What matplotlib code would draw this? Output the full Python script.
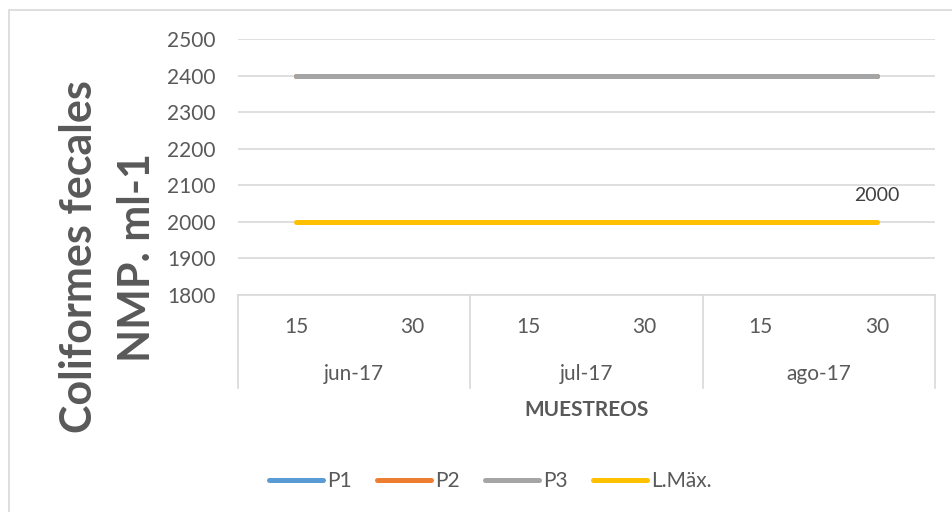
import matplotlib.pyplot as plt
from matplotlib.patches import Rectangle

plt.rcParams['font.family'] = ['Lato', 'DejaVu Sans']

# datos
dias = ['15', '30', '15', '30', '15', '30']
meses = ['jun-17', 'jul-17', 'ago-17']
p1 = [2400, 2400, 2400, 2400, 2400, 2400]
p2 = [2400, 2400, 2400, 2400, 2400, 2400]
p3 = [2400, 2400, 2400, 2400, 2400, 2400]
l_max = [2000, 2000, 2000, 2000, 2000, 2000]
series = ['P1', 'P2', 'P3', 'L.Mäx.']
colores = ['#5B9BD5', '#ED7D31', '#A5A5A5', '#FFC000']
yticks = [1800, 1900, 2000, 2100, 2200, 2300, 2400, 2500]

gris = '#595959'
linea = '#D9D9D9'

fig = plt.figure(figsize=(9.52, 5.12), dpi=100)
fig.patches.append(Rectangle((9 / 952, -0.1), 1.2, 1 - 10 / 512 + 0.1,
                             transform=fig.transFigure, fill=False,
                             edgecolor=linea, linewidth=1.2))

ax = fig.add_axes([238 / 952, 1 - 295 / 512, (935 - 238) / 952, (295 - 39) / 512])
x = list(range(len(dias)))

for datos, nombre, c in zip([p1, p2, p3, l_max], series, colores):
    ax.plot(x, datos, color=c, linewidth=3.6, solid_capstyle='round', label=nombre, zorder=3)

ax.text(x[-1], l_max[-1] + 50, str(l_max[-1]), ha='center', va='bottom', fontsize=14, color='#404040')

ax.set_xlim(-0.5, len(dias) - 0.5)
ax.set_ylim(1800, 2500)
ax.set_yticks(yticks)
ax.tick_params(axis='y', length=0, labelsize=15, labelcolor=gris, pad=16)
ax.set_xticks([])
ax.grid(axis='y', color=linea, linewidth=1.2)
ax.set_axisbelow(True)
for s in ['top', 'right', 'left']:
    ax.spines[s].set_visible(False)
ax.spines['bottom'].set_color(linea)
ax.spines['bottom'].set_linewidth(1.2)

# ejes de categorias
tr = ax.get_xaxis_transform()
for xs in [-0.5, 1.5, 3.5, 5.5]:
    ax.plot([xs, xs], [0, -0.363], color=linea, linewidth=1.2, transform=tr, clip_on=False)
for i, d in enumerate(dias):
    ax.text(i, -0.125, d, transform=tr, ha='center', va='center', fontsize=15, color=gris)
for j, m in enumerate(meses):
    ax.text(2 * j + 0.5, -0.31, m, transform=tr, ha='center', va='center', fontsize=15, color=gris)
ax.text(2.5, -0.45, 'MUESTREOS', transform=tr, ha='center', va='center',
        fontsize=15, fontweight='bold', color=gris)

fig.text(79 / 952, 1 - 257 / 512, 'Coliformes fecales', rotation=90, ha='center', va='center',
         fontsize=31, fontweight='bold', color=gris)
fig.text(137 / 952, 1 - 257 / 512, 'NMP. ml-1', rotation=90, ha='center', va='center',
         fontsize=31, fontweight='bold', color=gris)

ax.legend(loc='center', bbox_to_anchor=(490 / 952, 1 - 481 / 512), bbox_transform=fig.transFigure,
          ncol=4, frameon=False, fontsize=15, labelcolor=gris, handlelength=2.6,
          handletextpad=0.2, columnspacing=1.2)

fig.savefig('out.png', dpi=100)
